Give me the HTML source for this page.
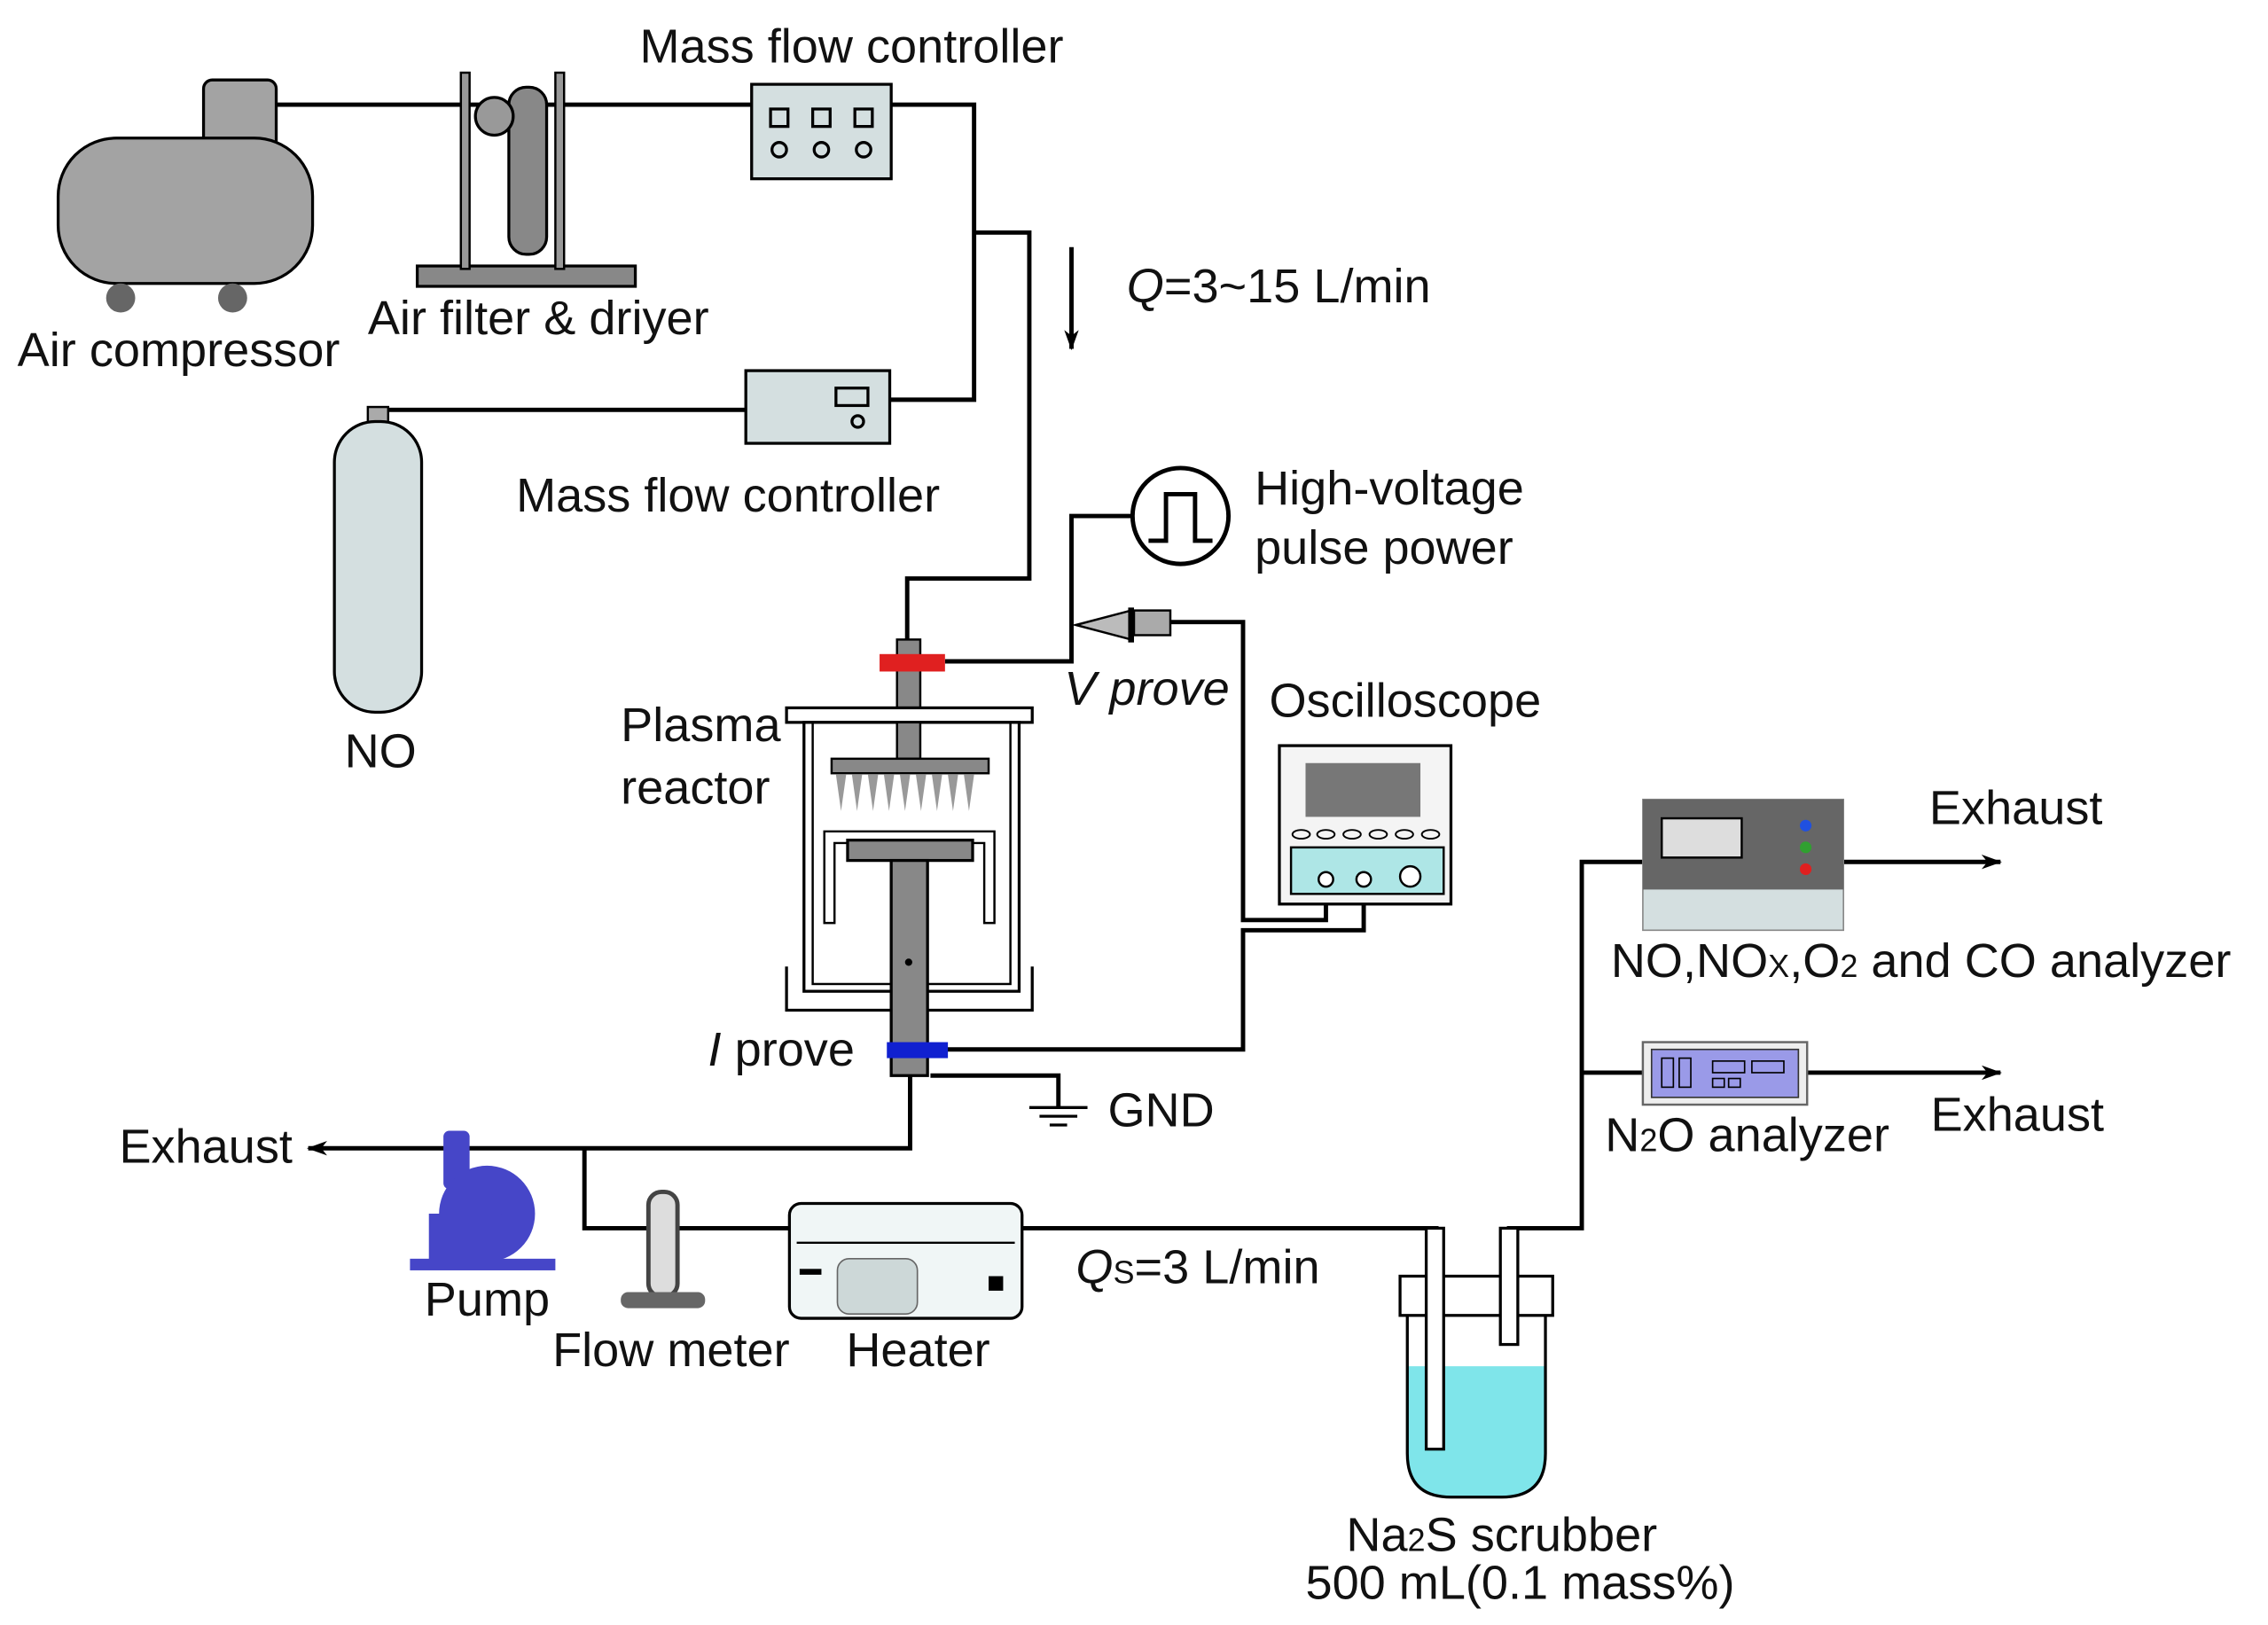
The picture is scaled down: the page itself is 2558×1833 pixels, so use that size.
<!DOCTYPE html>
<html><head><style>html,body{margin:0;padding:0;background:#fff}svg{display:block}text{font-family:"Liberation Sans",Arial,sans-serif;font-size:33px;fill:#111}</style></head>
<body>
<svg width="2558" height="1833" viewBox="0 0 1560 1118" preserveAspectRatio="none" xmlns="http://www.w3.org/2000/svg">
<defs><marker id="ar" markerWidth="14" markerHeight="10" refX="13" refY="5" orient="auto" markerUnits="userSpaceOnUse"><path d="M0,0 L14,5 L0,10 L4,5z" fill="#000"/></marker></defs>
<g stroke="#000" stroke-width="3" fill="none">
<path d="M190,72 H517"/>
<path d="M613,72 H670 V275 H612"/>
<path d="M670,160 H708 V398 H624 V445"/>
<path d="M260,285 V282 H513"/>
<path d="M737,170 V240" marker-end="url(#ar)"/>
<path d="M779,355 H737 V455 H650"/>
<path d="M805,428 H855 V633 H912 V605"/>
<path d="M650,722 H855 V640 H938 V605"/>
<path d="M626,740 V790 H212" marker-end="url(#ar)"/>
<path d="M402,790 V845 H988 V995"/>
<path d="M1038,925 V845 H1088 V593 H1376" marker-end="url(#ar)"/>
<path d="M1088,738 H1376" marker-end="url(#ar)"/>
<path d="M640,740 H728 V762"/>
<path d="M708,762 H748 M715,768 H741 M722,774 H734" stroke-width="2"/>
</g>
<rect x="140" y="55" width="50" height="50" rx="6" fill="#a3a3a3" stroke="#000" stroke-width="2"/>
<rect x="40" y="95" width="175" height="100" rx="40" fill="#a3a3a3" stroke="#000" stroke-width="2"/>
<circle cx="83" cy="205" r="10" fill="#666"/><circle cx="160" cy="205" r="10" fill="#666"/>
<rect x="287" y="183" width="150" height="14" fill="#888" stroke="#000" stroke-width="2"/>
<rect x="317" y="50" width="6" height="135" fill="#999" stroke="#000" stroke-width="1.5"/>
<rect x="382" y="50" width="6" height="135" fill="#999" stroke="#000" stroke-width="1.5"/>
<rect x="350" y="60" width="26" height="115" rx="12" fill="#888" stroke="#000" stroke-width="2"/>
<circle cx="340" cy="80" r="13" fill="#999" stroke="#000" stroke-width="2"/>
<rect x="517" y="58" width="96" height="65" fill="#d4dfe0" stroke="#000" stroke-width="2"/>
<g fill="none" stroke="#000" stroke-width="2"><rect x="530" y="75" width="12" height="12"/><rect x="559" y="75" width="12" height="12"/><rect x="588" y="75" width="12" height="12"/><circle cx="536" cy="103" r="5"/><circle cx="565" cy="103" r="5"/><circle cx="594" cy="103" r="5"/></g>
<rect x="513" y="255" width="99" height="50" fill="#d4dfe0" stroke="#000" stroke-width="2"/>
<rect x="575" y="267" width="22" height="12" fill="none" stroke="#000" stroke-width="2"/><circle cx="590" cy="290" r="4" fill="none" stroke="#000" stroke-width="2"/>
<rect x="253" y="280" width="14" height="12" fill="#aaa" stroke="#000" stroke-width="1.5"/>
<rect x="230" y="290" width="60" height="200" rx="28" fill="#d4dfe0" stroke="#000" stroke-width="2"/>
<circle cx="812" cy="355" r="33" fill="#fff" stroke="#000" stroke-width="3"/>
<path d="M790,372 H802 V340 H822 V372 H834" fill="none" stroke="#000" stroke-width="3"/>
<path d="M740,430 L778,420 V440 Z" fill="#bbb" stroke="#000" stroke-width="1.5"/>
<rect x="776" y="418" width="4" height="24" fill="#000"/>
<rect x="780" y="420" width="25" height="17" fill="#aaa" stroke="#000" stroke-width="1.5"/>
<rect x="617" y="440" width="16" height="80" fill="#888" stroke="#000" stroke-width="1.5"/>
<rect x="605" y="450" width="45" height="12" fill="#e02020"/>
<rect x="541" y="487" width="169" height="10" fill="#fff" stroke="#000" stroke-width="2"/>
<path d="M541,665 V695 H710 V665" fill="none" stroke="#000" stroke-width="2"/>
<rect x="553" y="497" width="148" height="185" fill="#fff" stroke="#000" stroke-width="2"/>
<rect x="559" y="497" width="136" height="180" fill="none" stroke="#000" stroke-width="1.5"/>
<rect x="617" y="497" width="16" height="25" fill="#888" stroke="#000" stroke-width="1.5"/>
<rect x="572" y="522" width="108" height="10" fill="#888" stroke="#000" stroke-width="1.5"/>
<g fill="#999"><path d="M575,533h7l-3.5,25z"/><path d="M586,533h7l-3.5,25z"/><path d="M597,533h7l-3.5,25z"/><path d="M608,533h7l-3.5,25z"/><path d="M619,533h7l-3.5,25z"/><path d="M630,533h7l-3.5,25z"/><path d="M641,533h7l-3.5,25z"/><path d="M652,533h7l-3.5,25z"/><path d="M663,533h7l-3.5,25z"/></g>
<path d="M567,635 V572 H684 V635 H677 V580 H574 V635 Z" fill="#fff" stroke="#000" stroke-width="1.5"/>
<rect x="583" y="578" width="86" height="14" fill="#888" stroke="#000" stroke-width="2"/>
<rect x="613" y="592" width="25" height="148" fill="#888" stroke="#000" stroke-width="2"/>
<circle cx="625" cy="662" r="2.5" fill="#000"/>
<rect x="610" y="717" width="42" height="11" fill="#1020d0"/>
<rect x="880" y="513" width="118" height="109" fill="#f4f4f4" stroke="#000" stroke-width="2"/>
<rect x="898" y="525" width="79" height="37" fill="#777"/>
<g fill="none" stroke="#000" stroke-width="1.2"><ellipse cx="895" cy="574" rx="6" ry="3"/><ellipse cx="912" cy="574" rx="6" ry="3"/><ellipse cx="930" cy="574" rx="6" ry="3"/><ellipse cx="948" cy="574" rx="6" ry="3"/><ellipse cx="966" cy="574" rx="6" ry="3"/><ellipse cx="984" cy="574" rx="6" ry="3"/></g>
<rect x="888" y="583" width="105" height="32" fill="#aee6e6" stroke="#000" stroke-width="1.5"/>
<circle cx="912" cy="605" r="5" fill="#fff" stroke="#000" stroke-width="1.5"/><circle cx="938" cy="605" r="5" fill="#fff" stroke="#000" stroke-width="1.5"/><circle cx="970" cy="603" r="7" fill="#fff" stroke="#000" stroke-width="1.5"/>
<rect x="305" y="778" width="18" height="40" rx="4" fill="#4646c8"/>
<circle cx="335" cy="835" r="33" fill="#4646c8"/>
<rect x="295" y="835" width="50" height="33" fill="#4646c8"/>
<rect x="282" y="866" width="100" height="8" fill="#4646c8"/>
<rect x="446" y="820" width="20" height="72" rx="9" fill="#ddd" stroke="#444" stroke-width="3"/>
<rect x="427" y="889" width="58" height="11" rx="5" fill="#666"/>
<rect x="543" y="828" width="160" height="79" rx="8" fill="#f0f6f6" stroke="#000" stroke-width="2"/>
<line x1="548" y1="855" x2="698" y2="855" stroke="#000" stroke-width="1.5"/>
<rect x="576" y="866" width="55" height="38" rx="8" fill="#cdd8d8" stroke="#666"/>
<rect x="550" y="873" width="15" height="4" fill="#000"/><rect x="680" y="878" width="10" height="10" fill="#000"/>
<path d="M968,940 V1000 Q968,1030 998,1030 H1033 Q1063,1030 1063,1000 V940 Z" fill="#7fe5ea"/>
<path d="M968,880 V1000 Q968,1030 998,1030 H1033 Q1063,1030 1063,1000 V880" fill="none" stroke="#000" stroke-width="2"/>
<rect x="963" y="878" width="105" height="27" fill="#fff" stroke="#000" stroke-width="2"/>
<rect x="981" y="845" width="12" height="152" fill="#fff" stroke="#000" stroke-width="2"/>
<rect x="1032" y="845" width="12" height="80" fill="#fff" stroke="#000" stroke-width="2"/>
<rect x="1130" y="550" width="138" height="90" fill="#d4dfe0" stroke="#888"/>
<rect x="1130" y="550" width="138" height="62" fill="#666"/>
<rect x="1143" y="563" width="55" height="27" fill="#ddd" stroke="#000" stroke-width="1.5"/>
<circle cx="1242" cy="568" r="4" fill="#2050e0"/><circle cx="1242" cy="583" r="4" fill="#30a030"/><circle cx="1242" cy="598" r="4" fill="#e02020"/>
<rect x="1130" y="717" width="113" height="43" fill="#eee" stroke="#666" stroke-width="1.5"/>
<rect x="1136" y="722" width="101" height="33" fill="#9a9ae8" stroke="#333"/>
<rect x="1143" y="728" width="8" height="20" fill="none" stroke="#000"/><rect x="1155" y="728" width="8" height="20" fill="none" stroke="#000"/>
<rect x="1178" y="730" width="22" height="8" fill="none" stroke="#000"/><rect x="1205" y="730" width="22" height="8" fill="none" stroke="#000"/>
<rect x="1178" y="742" width="8" height="6" fill="none" stroke="#000"/><rect x="1189" y="742" width="8" height="6" fill="none" stroke="#000"/>
<text x="440" y="43">Mass flow controller</text>
<text x="12" y="252">Air compressor</text>
<text x="253" y="230">Air filter &amp; driyer</text>
<text x="775" y="208"><tspan font-style="italic">Q</tspan>=3~15 L/min</text>
<text x="355" y="352">Mass flow controller</text>
<text x="237" y="528">NO</text>
<text x="863" y="347">High-voltage</text>
<text x="863" y="388">pulse power</text>
<text x="732" y="485" font-style="italic">V prove</text>
<text x="873" y="493">Oscilloscope</text>
<text x="427" y="510">Plasma</text>
<text x="427" y="553">reactor</text>
<text x="487" y="733"><tspan font-style="italic">I</tspan> prove</text>
<text x="762" y="775">GND</text>
<text x="82" y="800">Exhaust</text>
<text x="292" y="905">Pump</text>
<text x="380" y="940">Flow meter</text>
<text x="582" y="940">Heater</text>
<text x="740" y="883"><tspan font-style="italic">Q</tspan><tspan font-size="22">S</tspan>=3 L/min</text>
<text x="1327" y="567">Exhaust</text>
<text x="1108" y="672">NO,NO<tspan font-size="22">X</tspan>,O<tspan font-size="22">2</tspan> and CO analyzer</text>
<text x="1328" y="778">Exhaust</text>
<text x="1104" y="792">N<tspan font-size="22">2</tspan>O analyzer</text>
<text x="926" y="1067">Na<tspan font-size="22">2</tspan>S scrubber</text>
<text x="898" y="1100">500 mL(0.1 mass%)</text>
</svg>
</body></html>
